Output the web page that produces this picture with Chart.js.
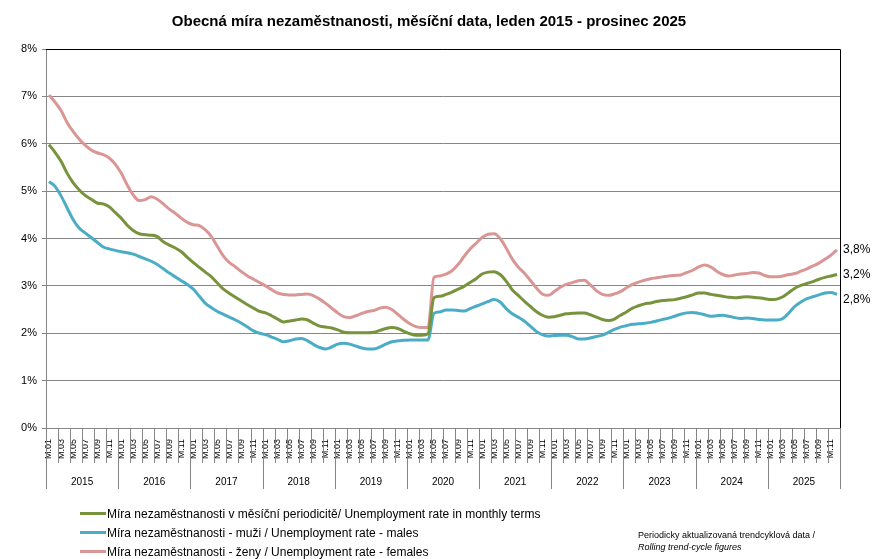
<!DOCTYPE html>
<html>
<head>
<meta charset="utf-8">
<script src="https://cdn.jsdelivr.net/npm/chart.js@4/dist/chart.umd.min.js"></script>
<style>
  body { margin: 0; background: #fff; font-family: "Liberation Sans", Arial, sans-serif; }
  #wrap { position: relative; width: 872px; height: 559px; }
  #legend { position: absolute; left: 80px; top: 505px; font-size: 12px; color: #000; }
  #legend .row { height: 19px; line-height: 19px; white-space: nowrap; }
  #legend .mark { display: inline-block; width: 26px; height: 3px; vertical-align: middle; margin-right: 1px; position: relative; top: -1px; }
  #note { position: absolute; left: 638px; top: 529px; font-size: 9px; line-height: 12px; color: #000; }
</style>
</head>
<body>
<div id="wrap">
  <canvas id="chart"></canvas>
  <div id="legend"></div>
  <div id="note">Periodicky aktualizovaná trendcyklová data /<br><i>Rolling trend-cycle figures</i></div>
</div>
<script>
// categories
const years = ['2015', '2016', '2017', '2018', '2019', '2020', '2021', '2022', '2023', '2024', '2025'];
const monthNames = ['M.01', 'M.02', 'M.03', 'M.04', 'M.05', 'M.06', 'M.07', 'M.08', 'M.09', 'M.10', 'M.11', 'M.12'];
const months = years.flatMap(() => monthNames);

// series values (%), Jan 2015 - Dec 2025
const total = [
  5.98, 5.82, 5.63, 5.38, 5.18, 5.03, 4.91, 4.83, 4.75, 4.73, 4.67, 4.55,
  4.43, 4.28, 4.17, 4.10, 4.08, 4.07, 4.04, 3.93, 3.86, 3.80, 3.72, 3.60,
  3.49, 3.39, 3.29, 3.19, 3.06, 2.93, 2.84, 2.76, 2.68, 2.60, 2.53, 2.46,
  2.43, 2.37, 2.30, 2.24, 2.26, 2.28, 2.30, 2.28, 2.21, 2.15, 2.13, 2.11,
  2.07, 2.02, 2.01, 2.01, 2.01, 2.01, 2.02, 2.06, 2.10, 2.12, 2.10, 2.04,
  1.99, 1.96, 1.96, 1.99, 2.75, 2.78, 2.82, 2.87, 2.93, 2.99, 3.07, 3.15,
  3.25, 3.29, 3.30, 3.24, 3.10, 2.92, 2.80, 2.68, 2.57, 2.46, 2.38, 2.34,
  2.35, 2.38, 2.41, 2.42, 2.43, 2.43, 2.39, 2.34, 2.29, 2.27, 2.30, 2.38,
  2.45, 2.53, 2.58, 2.62, 2.64, 2.67, 2.69, 2.70, 2.71, 2.74, 2.77, 2.81,
  2.85, 2.85, 2.82, 2.80, 2.78, 2.76, 2.75, 2.76, 2.77, 2.76, 2.75, 2.73,
  2.71, 2.72, 2.77, 2.86, 2.95, 3.01, 3.05, 3.09, 3.14, 3.18, 3.21, 3.24
];
const males = [
  5.20, 5.10, 4.90, 4.65, 4.40, 4.22, 4.12, 4.02, 3.92, 3.82, 3.78, 3.75,
  3.72, 3.70, 3.67, 3.62, 3.57, 3.52, 3.45, 3.36, 3.27, 3.19, 3.11, 3.03,
  2.93, 2.78, 2.63, 2.54, 2.46, 2.40, 2.34, 2.28, 2.21, 2.13, 2.05, 2.00,
  1.97, 1.92, 1.87, 1.82, 1.84, 1.88, 1.89, 1.84, 1.76, 1.70, 1.67, 1.71,
  1.77, 1.79, 1.77, 1.73, 1.69, 1.67, 1.67, 1.71, 1.77, 1.82, 1.84, 1.85,
  1.86, 1.86, 1.86, 1.86, 2.42, 2.45, 2.49, 2.49, 2.48, 2.47, 2.52, 2.57,
  2.62, 2.67, 2.71, 2.66, 2.52, 2.41, 2.34, 2.26, 2.15, 2.04, 1.97, 1.94,
  1.95, 1.96, 1.96, 1.93, 1.88, 1.88, 1.90, 1.93, 1.96, 2.02, 2.08, 2.13,
  2.16, 2.19, 2.20, 2.21, 2.23, 2.26, 2.29, 2.32, 2.36, 2.40, 2.43, 2.44,
  2.42, 2.39, 2.36, 2.37, 2.38, 2.36, 2.33, 2.31, 2.32, 2.31, 2.29, 2.28,
  2.28, 2.28, 2.31, 2.43, 2.57, 2.66, 2.73, 2.77, 2.81, 2.85, 2.86, 2.82
];
const females = [
  7.03, 6.88, 6.70, 6.45, 6.26, 6.10, 5.97, 5.87, 5.81, 5.77, 5.70, 5.57,
  5.38, 5.13, 4.92, 4.80, 4.82, 4.88, 4.83, 4.73, 4.62, 4.53, 4.43, 4.34,
  4.29, 4.27, 4.18, 4.04, 3.83, 3.63, 3.49, 3.40, 3.30, 3.21, 3.14, 3.07,
  3.00, 2.92, 2.85, 2.82, 2.81, 2.81, 2.82, 2.83, 2.79, 2.72, 2.63, 2.53,
  2.43, 2.35, 2.33, 2.37, 2.42, 2.46, 2.48, 2.53, 2.55, 2.50, 2.40, 2.29,
  2.20, 2.14, 2.12, 2.12, 3.18, 3.21, 3.25, 3.32, 3.45, 3.62, 3.78, 3.90,
  4.02, 4.09, 4.10, 4.00, 3.80, 3.57, 3.40, 3.27, 3.12, 2.96, 2.83, 2.80,
  2.88, 2.97, 3.03, 3.07, 3.11, 3.12, 3.02, 2.90, 2.82, 2.80, 2.83, 2.88,
  2.96, 3.03, 3.08, 3.12, 3.15, 3.17, 3.19, 3.21, 3.22, 3.23, 3.28, 3.33,
  3.40, 3.44, 3.40, 3.31, 3.24, 3.21, 3.23, 3.25, 3.26, 3.28, 3.27, 3.22,
  3.19, 3.19, 3.21, 3.24, 3.26, 3.31, 3.36, 3.42, 3.48, 3.56, 3.65, 3.76
];

const seriesLabels = [
  'Míra nezaměstnanosti v měsíční periodicitě/ Unemployment rate in monthly terms',
  'Míra nezaměstnanosti - muži / Unemployment rate - males',
  'Míra nezaměstnanosti - ženy / Unemployment rate - females'
];
const colors = ['#77933c', '#4bacc6', '#d99694'];
const gridGray = '#868686';
const font = '"Liberation Sans", Arial, sans-serif';

// separators under the x axis: every second month + year blocks, and year names
const axisDecor = {
  id: 'axisDecor',
  afterDraw(chart) {
    const { ctx, chartArea } = chart;
    const x = chart.scales.x;
    const half = (x.getPixelForValue(1) - x.getPixelForValue(0)) / 2;
    ctx.save();
    ctx.strokeStyle = gridGray;
    ctx.lineWidth = 1;
    for (let i = 0; i <= months.length; i += 2) {
      const px = Math.round(x.getPixelForValue(i) - half) + 0.5;
      const yearEdge = i % 12 === 0;
      ctx.beginPath();
      ctx.moveTo(px, chartArea.bottom);
      ctx.lineTo(px, chartArea.bottom + (yearEdge ? 61 : 35));
      ctx.stroke();
    }
    ctx.fillStyle = '#000';
    ctx.font = '10px ' + font;
    ctx.textAlign = 'center';
    ctx.textBaseline = 'middle';
    years.forEach((y, k) => {
      const a = x.getPixelForValue(k * 12) - half;
      const b = x.getPixelForValue(k * 12 + 11) + half;
      ctx.fillText(y, (a + b) / 2, chartArea.bottom + 54);
    });
    // plot frame top / right
    ctx.strokeStyle = '#000';
    ctx.beginPath();
    ctx.moveTo(chartArea.left, Math.round(chartArea.top) + 0.5);
    ctx.lineTo(Math.round(chartArea.right) + 0.5, Math.round(chartArea.top) + 0.5);
    ctx.lineTo(Math.round(chartArea.right) + 0.5, chartArea.bottom);
    ctx.stroke();
    ctx.restore();
  }
};

// value label at the last point of each line (pushed apart if too close)
const endLabels = {
  id: 'endLabels',
  afterDatasetsDraw(chart) {
    const { ctx, chartArea } = chart;
    ctx.save();
    ctx.font = '12px ' + font;
    ctx.fillStyle = '#000';
    ctx.textAlign = 'left';
    ctx.textBaseline = 'middle';
    const items = chart.data.datasets.map((ds, i) => {
      const meta = chart.getDatasetMeta(i);
      return { y: meta.data[meta.data.length - 1].y, v: ds.data[ds.data.length - 1] };
    }).sort((a, b) => a.y - b.y);
    let prev = -Infinity;
    items.forEach(it => {
      const y = Math.max(it.y, prev + 25);
      ctx.fillText(it.v.toFixed(1).replace('.', ',') + '%', chartArea.right + 3, y);
      prev = y;
    });
    ctx.restore();
  }
};

const chart = new Chart(document.getElementById('chart'), {
  type: 'line',
  data: {
    labels: months,
    datasets: [
      { label: seriesLabels[0], data: total, borderColor: colors[0] },
      { label: seriesLabels[1], data: males, borderColor: colors[1] },
      { label: seriesLabels[2], data: females, borderColor: colors[2] }
    ].map(d => ({ ...d, borderWidth: 3, pointRadius: 0, cubicInterpolationMode: 'monotone', fill: false }))
  },
  options: {
    responsive: true,
    maintainAspectRatio: false,
    animation: false,
    layout: { padding: { left: 18, right: 32, top: 0, bottom: 96 } },
    plugins: {
      legend: { display: false },
      tooltip: { enabled: false },
      title: {
        display: true,
        text: 'Obecná míra nezaměstnanosti, měsíční data, leden 2015 - prosinec 2025',
        color: '#000',
        font: { family: font, size: 15, weight: 'bold' },
        padding: { top: 13, bottom: 18 }
      }
    },
    scales: {
      x: {
        offset: true,
        grid: { display: false, drawTicks: false },
        border: { display: true, color: gridGray },
        ticks: {
          autoSkip: false,
          minRotation: 90,
          maxRotation: 90,
          padding: 11,
          color: '#000',
          font: { family: font, size: 9 },
          callback: (v, i) => (i % 2 === 0 ? months[i] : '')
        },
        afterFit: s => { s.height = 35; }
      },
      y: {
        min: 0,
        max: 8,
        ticks: {
          stepSize: 1,
          padding: 5,
          color: '#000',
          font: { family: font, size: 11 },
          callback: v => v + '%'
        },
        grid: { color: gridGray, tickLength: 4 },
        border: { color: gridGray },
        afterFit: s => { s.width = 28; }
      }
    }
  },
  plugins: [axisDecor, endLabels]
});

// legend as real text from the datasets
document.getElementById('legend').innerHTML = chart.data.datasets.map(ds =>
  '<div class="row"><span class="mark" style="background:' + ds.borderColor + '"></span>' + ds.label + '</div>'
).join('');
</script>
</body>
</html>
